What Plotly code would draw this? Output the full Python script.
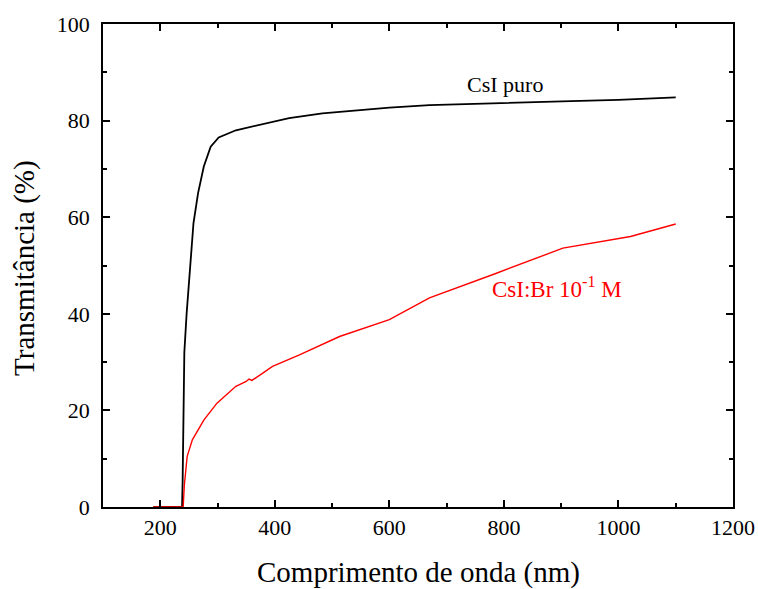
import plotly.graph_objects as go

# CsI puro
wl_puro = [188, 238, 239, 240, 241, 242, 246, 253, 258, 266, 276, 288, 302, 332, 378, 425, 483,
           550, 600, 670, 750, 800, 850, 933, 1000, 1050, 1100]
t_puro = [0, 0, 5, 15, 25, 32, 40, 50.5, 58.8, 65, 70.5, 74.6, 76.5, 78, 79.3, 80.5, 81.5,
          82.2, 82.7, 83.2, 83.5, 83.7, 83.9, 84.1, 84.3, 84.6, 84.8]

# CsI:Br 10^-1 M
wl_br = [188, 238, 240, 242, 247, 256, 276, 299, 332, 350, 355, 360, 396, 443, 513, 600, 670,
         787, 903, 1021, 1100]
t_br = [0, 0, 0, 4.5, 10.5, 13.9, 18, 21.5, 25, 26, 26.5, 26.2, 29.1, 31.5, 35.3, 38.8, 43.3,
        48.4, 53.6, 56, 58.6]

x_ticks = [200, 400, 600, 800, 1000, 1200]
y_ticks = [0, 20, 40, 60, 80, 100]

FONT = "Liberation Serif"

fig = go.Figure()
fig.add_trace(go.Scatter(x=wl_puro, y=t_puro, mode="lines",
                         line=dict(color="black", width=1.8), showlegend=False))
fig.add_trace(go.Scatter(x=wl_br, y=t_br, mode="lines",
                         line=dict(color="red", width=1.4), showlegend=False))

fig.add_annotation(x=802, y=87.4, text="CsI puro", showarrow=False,
                   font=dict(family=FONT, size=22, color="black"))
fig.add_annotation(x=893, y=45.4, text="CsI:Br 10<sup>-1</sup> M", showarrow=False,
                   font=dict(family=FONT, size=23, color="red"))

# axis titles
fig.add_annotation(xref="paper", yref="paper", x=0.5, y=-0.1366, yanchor="middle",
                   text="Comprimento de onda (nm)", showarrow=False,
                   font=dict(family=FONT, size=29, color="black"))
fig.add_annotation(xref="paper", yref="paper", x=-0.1238, y=0.495, xanchor="center",
                   yanchor="middle", textangle=-90,
                   text="Transmitância (%)", showarrow=False,
                   font=dict(family=FONT, size=29, color="black"))

axis_common = dict(showline=True, linecolor="black", linewidth=1.5, mirror="ticks",
                   ticks="inside", ticklen=7, tickwidth=1.5, tickcolor="black",
                   showgrid=False, zeroline=False, automargin=False,
                   tickfont=dict(family=FONT, size=22, color="black"))

fig.update_xaxes(range=[100, 1200], tickvals=x_ticks, ticklabeloverflow="allow",
                 minor=dict(dtick=100, tick0=100, ticks="inside", ticklen=4, tickwidth=1.5,
                            tickcolor="black", showgrid=False),
                 **axis_common)
fig.update_yaxes(range=[0, 100], tickvals=y_ticks, ticklabelstandoff=7,
                 minor=dict(dtick=10, tick0=0, ticks="inside", ticklen=4, tickwidth=1.5,
                            tickcolor="black", showgrid=False),
                 **axis_common)

fig.update_layout(width=758, height=589, plot_bgcolor="white", paper_bgcolor="white",
                  margin=dict(l=103, r=25, t=24, b=82))

fig.write_html("out.html", config={"displayModeBar": False},
               post_script="document.body.style.margin='0';document.body.style.overflow='hidden';")
